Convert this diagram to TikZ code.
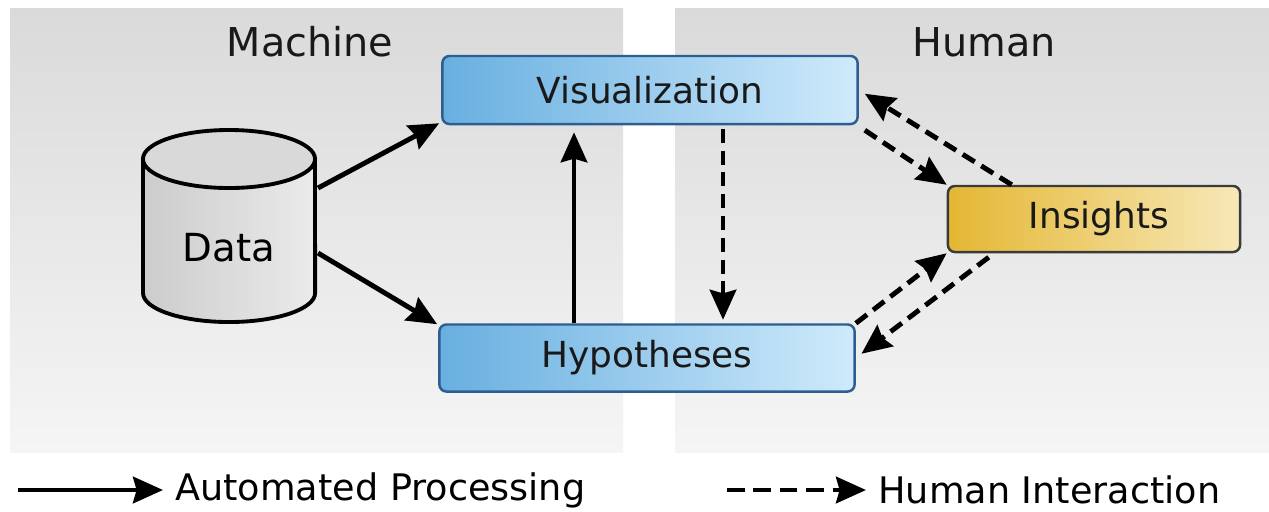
\documentclass[tikz,border=0pt]{standalone}
\usepackage{fontspec}
\setmainfont{DejaVu Sans}
\usetikzlibrary{arrows.meta}

\definecolor{panelTop}{HTML}{DADADA}
\definecolor{panelBot}{HTML}{F5F5F5}
\definecolor{blueL}{HTML}{68AFE0}
\definecolor{blueR}{HTML}{CFEAFB}
\definecolor{blueEdge}{HTML}{2C5E92}
\definecolor{goldL}{HTML}{E4B733}
\definecolor{goldR}{HTML}{F7E8B8}
\definecolor{goldEdge}{HTML}{3A3A3A}

\begin{document}
\begin{tikzpicture}[x=0.01cm, y=-0.01cm,
    title/.style={font=\fontsize{11.3}{13}\selectfont, text=black!90},
    stepbox/.style={draw=blueEdge, line width=0.7pt, rounded corners=2pt,
        left color=blueL, right color=blueR, minimum width=4.15cm,
        minimum height=0.68cm, font=\fontsize{10.2}{12}\selectfont, text=black!90},
    insightbox/.style={stepbox, draw=goldEdge, left color=goldL, right color=goldR,
        minimum width=2.92cm, minimum height=0.66cm},
    auto/.style={line width=1.4pt, -{Stealth[length=8.5pt,width=7.5pt,inset=1pt]}},
    human/.style={auto, dash pattern=on 4pt off 2.2pt},
    legend/.style={font=\fontsize{10.4}{12}\selectfont, anchor=west}]

    \useasboundingbox (0,0) rectangle (1269,511);
    \fill[white] (0,0) rectangle (1269,511);

    % the two panels
    \shade[top color=panelTop, bottom color=panelBot] (10,8) rectangle (623,452);
    \shade[top color=panelTop, bottom color=panelBot] (675,8) rectangle (1269,452);
    \node[title] (machine) at (310,42) {Machine};
    \node[title] (human) at (984,42) {Human};

    % data store
    \shade[left color=black!20, right color=black!8, draw=black, line width=1.1pt]
        (143,159) -- (143,293) arc[start angle=180, end angle=360, x radius=0.86cm, y radius=0.29cm]
        -- (315,159) -- cycle;
    \filldraw[fill=black!15, draw=black, line width=1.1pt]
        (229,159) ellipse [x radius=0.86cm, y radius=0.29cm];
    \node[font=\fontsize{11}{13}\selectfont] (data) at (229,248) {Data};
    \coordinate (dataA) at (318,188);
    \coordinate (dataB) at (318,253);

    % boxes
    \node[stepbox] (viz) at (650,90) {Visualization};
    \node[stepbox, minimum height=0.67cm] (hyp) at (647,358) {Hypotheses};
    \node[insightbox] (ins) at (1094,219) {\hspace{0.1cm}Insights};

    % automated processing
    \draw[auto] (dataA) -- ([xshift=-0.02cm, yshift=0.02cm]viz.south west);
    \draw[auto] (dataB) -- ([xshift=-0.01cm, yshift=-0.01cm]hyp.north west);
    \draw[auto, shorten >=2pt] (hyp.north -| 574,0) -- (viz.south -| 574,0);

    % human interaction
    \draw[human, shorten <=1pt, shorten >=1pt] (viz.south -| 723,0) -- (hyp.north -| 723,0);
    \draw[human, shorten <=1pt] ([xshift=0.03cm, yshift=-0.03cm]viz.south east) -- (ins.north west);
    \draw[human, shorten >=2pt] ([xshift=0.65cm]ins.north west) -- (viz.east);
    \draw[human] (hyp.north east) -- (ins.south west);
    \draw[human, shorten >=2pt] ([xshift=0.42cm, yshift=-0.04cm]ins.south west) -- (hyp.east);

    % legend
    \node[legend] (autotext) at (163,490) {Automated Processing};
    \node[legend] (humantext) at (866,490) {Human Interaction};
    \coordinate (autostart) at (18,490);
    \coordinate (humanstart) at (727,490);
    \draw[auto] (autostart) -- (autotext.west);
    \draw[human, dash pattern=on 5pt off 2.5pt] (humanstart) -- (humantext.west);
\end{tikzpicture}
\end{document}
